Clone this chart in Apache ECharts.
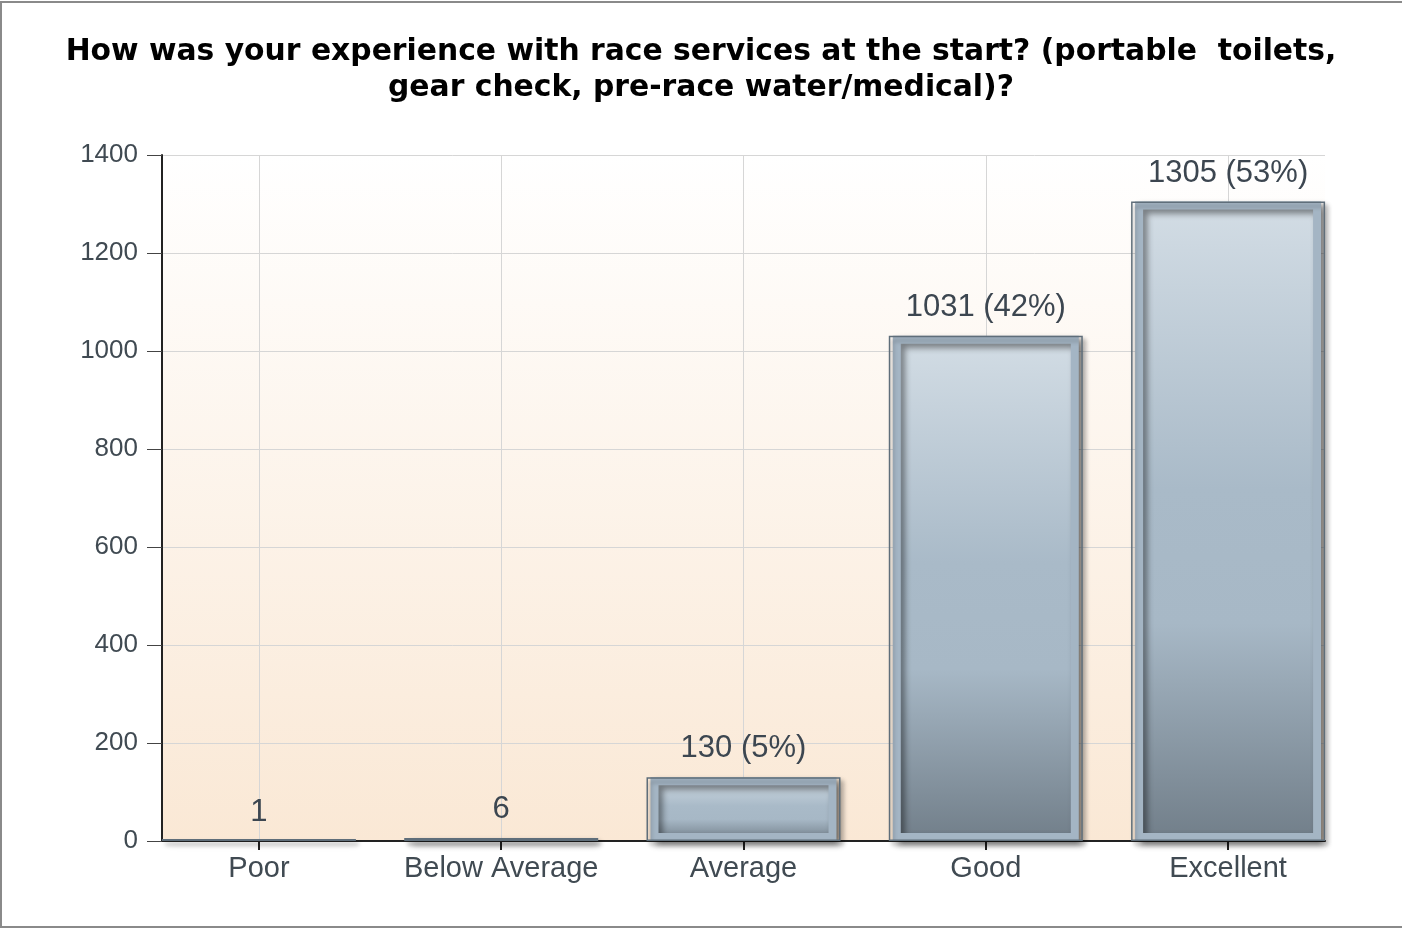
<!DOCTYPE html>
<html>
<head>
<meta charset="utf-8">
<script src="https://cdn.jsdelivr.net/npm/echarts@6/dist/echarts.min.js"></script>
<style>
  html, body { margin: 0; padding: 0; background: #fff; }
  #chart { width: 1402px; height: 930px; }
</style>
</head>
<body>
<div id="chart"></div>
<script>
  // survey answers
  const categories = ["Poor", "Below Average", "Average", "Good", "Excellent"];
  const counts = [1, 6, 130, 1031, 1305];
  const yTicks = [0, 200, 400, 600, 800, 1000, 1200, 1400];
  const titleText = "How was your experience with race services at the start? (portable  toilets,\ngear check, pre-race water/medical)?";

  const total = counts.reduce((a, b) => a + b, 0);
  const font = "'Liberation Sans', Arial, sans-serif";
  const positions = categories.map((c, i) => i);

  const barFill = {
    type: "linear", x: 0, y: 0, x2: 0, y2: 1,
    colorStops: [
      { offset: 0, color: "#d3dde5" },
      { offset: 0.45, color: "#a9bac8" },
      { offset: 0.66, color: "#a7b8c6" },
      { offset: 1, color: "#717e89" }
    ]
  };

  const chart = echarts.init(document.getElementById("chart"), null, { renderer: "canvas" });
  chart.setOption({
    animation: false,
    backgroundColor: "#ffffff",
    title: {
      text: titleText,
      left: "center",
      top: 29,
      textStyle: {
        fontFamily: "'DejaVu Sans', sans-serif",
        fontWeight: "bold",
        fontSize: 29.8,
        lineHeight: 36,
        color: "#000"
      }
    },
    graphic: [{
      type: "rect",
      shape: { x: 1, y: 2, width: 1410, height: 925 },
      style: { fill: null, stroke: "#8a8a8a", lineWidth: 2 },
      silent: true,
      z: 100
    }],
    grid: {
      left: 162, right: 77, top: 155, bottom: 89,
      show: true,
      borderWidth: 0,
      backgroundColor: {
        type: "linear", x: 0, y: 0, x2: 0, y2: 1,
        colorStops: [
          { offset: 0, color: "#ffffff" },
          { offset: 1, color: "#fae8d5" }
        ]
      }
    },
    xAxis: [
      {
        type: "value",
        min: -0.4,
        max: 4.4,
        axisLine: { show: true, onZero: false, lineStyle: { color: "#222", width: 2 } },
        axisTick: { show: true, customValues: positions, length: 9, lineStyle: { color: "#222", width: 2 } },
        axisLabel: {
          customValues: positions,
          formatter: v => categories[Math.round(v)],
          margin: 13,
          fontFamily: font,
          fontSize: 29,
          color: "#404a52"
        },
        splitLine: { show: true, lineStyle: { color: "#d6d6d6", width: 1 } }
      },
      { type: "value", min: -0.4, max: 4.4, show: false }
    ],
    yAxis: {
      type: "value",
      min: 0,
      max: 1400,
      interval: 200,
      axisLine: { show: true, onZero: false, lineStyle: { color: "#222", width: 2 } },
      axisTick: { show: true, length: 15, lineStyle: { color: "#444", width: 1 } },
      axisLabel: {
        margin: 24,
        fontFamily: font,
        fontSize: 26,
        color: "#404a52",
        customValues: yTicks,
        formatter: v => String(v)
      },
      splitLine: { show: true, lineStyle: { color: "#d6d6d6", width: 1 } }
    },
    series: [
      {
        type: "bar",
        xAxisIndex: 0,
        barWidth: 186,
        z: 2,
        data: counts.map((v, i) => v < 20
          ? { value: [i, v], itemStyle: { borderWidth: 0 } }
          : [i, v]),
        itemStyle: {
          color: barFill,
          borderColor: "#a4b5c4",
          borderWidth: 8,
          shadowColor: "rgba(0,0,0,0.45)",
          shadowBlur: 6,
          shadowOffsetX: 4,
          shadowOffsetY: 4
        },
        label: {
          show: true,
          position: "top",
          distance: 13,
          fontFamily: font,
          fontSize: 31,
          color: "#3c4650",
          formatter: p => {
            const v = p.value[1];
            const pct = Math.round(v / total * 100);
            return pct > 0 ? v + " (" + pct + "%)" : String(v);
          }
        }
      },
      {
        type: "bar",
        xAxisIndex: 1,
        barWidth: 194,
        barMinHeight: 2,
        z: 3,
        silent: true,
        data: counts.map((v, i) => [i, v]),
        itemStyle: {
          color: "rgba(0,0,0,0)",
          borderColor: "#5f6e7a",
          borderWidth: 1.5,
          shadowColor: "rgba(0,0,0,0.35)",
          shadowBlur: 4,
          shadowOffsetX: 3,
          shadowOffsetY: 4
        }
      }
    ]
  });
</script>
</body>
</html>
